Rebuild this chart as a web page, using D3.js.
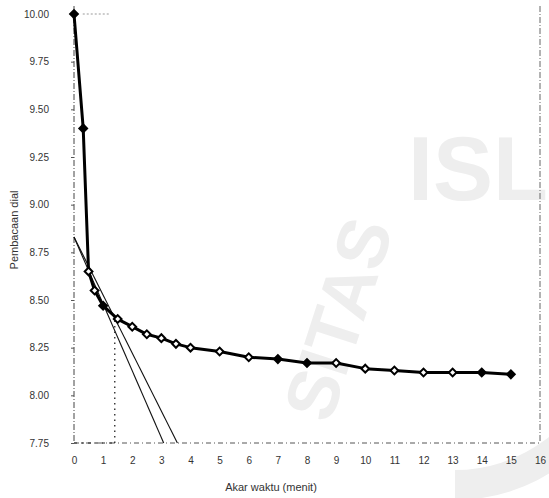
<!DOCTYPE html>
<html>
<head>
<meta charset="utf-8">
<script src="https://cdn.jsdelivr.net/npm/d3@7"></script>
<style>
  html, body { margin: 0; padding: 0; background: #fff; }
  svg { display: block; }
  text { font-family: "Liberation Sans", Arial, sans-serif; }
</style>
</head>
<body>
<div id="chart"></div>
<script>
// ---- data ----
const sqrtTime = [0, 0.316, 0.5, 0.707, 1, 1.5, 2, 2.5, 3, 3.5, 4, 5, 6, 7, 8, 9, 10, 11, 12, 13, 14, 15];
const dialReading = [10.00, 9.40, 8.65, 8.55, 8.47, 8.40, 8.36, 8.32, 8.30, 8.27, 8.25, 8.23, 8.20, 8.19, 8.17, 8.17, 8.14, 8.13, 8.12, 8.12, 8.12, 8.11];
const tangentX = [0, 3.08];
const tangentY = [8.83, 7.75];
const tangent115X = [0, 3.55];
const tangent115Y = [8.83, 7.75];
const guideX = [1.40, 1.40];
const guideY = [7.75, 8.41];
const xTicks = [0, 1, 2, 3, 4, 5, 6, 7, 8, 9, 10, 11, 12, 13, 14, 15, 16];
const yTicks = [7.75, 8.00, 8.25, 8.50, 8.75, 9.00, 9.25, 9.50, 9.75, 10.00];
const xTitle = "Akar waktu (menit)";
const yTitle = "Pembacaan dial";

// ---- layout ----
const W = 549, H = 498;
const svg = d3.select("#chart").append("svg").attr("width", W).attr("height", H);

const x = d3.scaleLinear().domain([0, 16]).range([74, 540]);
const y = d3.scaleLinear().domain([7.75, 10.00]).range([443, 14]);

// ---- faint watermark (scan background) ----
const wm = svg.append("g").attr("fill", "#eeeeee");
wm.append("path")
  .attr("d", d3.arc()({innerRadius: 150, outerRadius: 180, startAngle: Math.PI * 0.6, endAngle: Math.PI * 1.0}))
  .attr("transform", "translate(455,320)");
wm.append("text").attr("x", 408).attr("y", 200).attr("font-size", 90).attr("font-weight", "bold")
  .text("ISL");
wm.append("text").attr("font-size", 72).attr("font-weight", "bold")
  .attr("transform", "translate(330,425) rotate(-72)").text("SITAS");

// ---- frame lines ----
const frame = svg.append("g").attr("fill", "none").attr("stroke", "#444").attr("stroke-width", 1);
frame.append("line").attr("x1", x(0)).attr("x2", x(0)).attr("y1", y(10.0) - 8).attr("y2", y(7.75))
  .attr("stroke-dasharray", "6,2,1,2");
frame.append("line").attr("x1", x(16)).attr("x2", x(16)).attr("y1", 6).attr("y2", y(7.75))
  .attr("stroke-dasharray", "6,2,1,2").attr("stroke", "#666");
frame.append("line").attr("x1", x(0)).attr("x2", x(16)).attr("y1", y(7.75)).attr("y2", y(7.75))
  .attr("stroke-dasharray", "5,3,1,3").attr("stroke", "#555");
frame.append("line").attr("x1", x(0.3)).attr("x2", x(1.25)).attr("y1", y(10)).attr("y2", y(10))
  .attr("stroke-dasharray", "2,2").attr("stroke", "#999");

// ---- y axis ----
const yAxis = d3.axisLeft(y).tickValues(yTicks).tickFormat(d3.format(".2f")).tickSize(3).tickPadding(22);
const gy = svg.append("g").attr("transform", `translate(${x(0)},0)`).call(yAxis);
gy.select(".domain").remove();
gy.selectAll(".tick line").attr("stroke", "#555");
gy.selectAll(".tick text").attr("font-size", 10).attr("fill", "#333")
  .attr("font-family", "Liberation Sans, Arial, sans-serif");

// ---- x axis ----
const xAxis = d3.axisBottom(x).tickValues(xTicks).tickFormat(d3.format("d")).tickSize(0).tickPadding(14);
const gx = svg.append("g").attr("transform", `translate(0,${y(7.75)})`).call(xAxis);
gx.select(".domain").remove();
gx.selectAll(".tick text").attr("font-size", 10).attr("fill", "#333")
  .attr("font-family", "Liberation Sans, Arial, sans-serif");

// ---- titles ----
svg.append("text").attr("x", 271).attr("y", 491).attr("text-anchor", "middle")
  .attr("font-size", 11).attr("fill", "#333").text(xTitle);
svg.append("text").attr("transform", "translate(18,230) rotate(-90)").attr("text-anchor", "middle")
  .attr("font-size", 11).attr("fill", "#333").text(yTitle);

// ---- tangent lines ----
const ln = d3.line().x(d => x(d[0])).y(d => y(d[1]));
svg.append("path").datum(d3.zip(tangentX, tangentY)).attr("d", ln)
  .attr("fill", "none").attr("stroke", "#111").attr("stroke-width", 1.1);
svg.append("path").datum(d3.zip(tangent115X, tangent115Y)).attr("d", ln)
  .attr("fill", "none").attr("stroke", "#111").attr("stroke-width", 1.1);
svg.append("path").datum(d3.zip(guideX, guideY)).attr("d", ln)
  .attr("fill", "none").attr("stroke", "#222").attr("stroke-width", 1.3).attr("stroke-dasharray", "1.5,4");
svg.append("path").datum([[0, 7.75], [guideX[0], 7.75]]).attr("d", ln)
  .attr("fill", "none").attr("stroke", "#222").attr("stroke-width", 1.2).attr("stroke-dasharray", "3,4");

// ---- main curve ----
const pts = d3.zip(sqrtTime, dialReading);
svg.append("path").datum(pts).attr("d", ln)
  .attr("fill", "none").attr("stroke", "#000").attr("stroke-width", 3).attr("stroke-linejoin", "round");

const marker = d3.symbol().type(d3.symbolSquare).size(30);
svg.append("g").selectAll("path").data(pts).join("path")
  .attr("transform", d => `translate(${x(d[0])},${y(d[1])}) rotate(45)`)
  .attr("d", marker)
  .attr("fill", (d, i) => (i < 2 || i === 4 || i > 19 || i === 13 || i === 14) ? "#000" : "#fff")
  .attr("stroke", "#000").attr("stroke-width", 2);
</script>
</body>
</html>
